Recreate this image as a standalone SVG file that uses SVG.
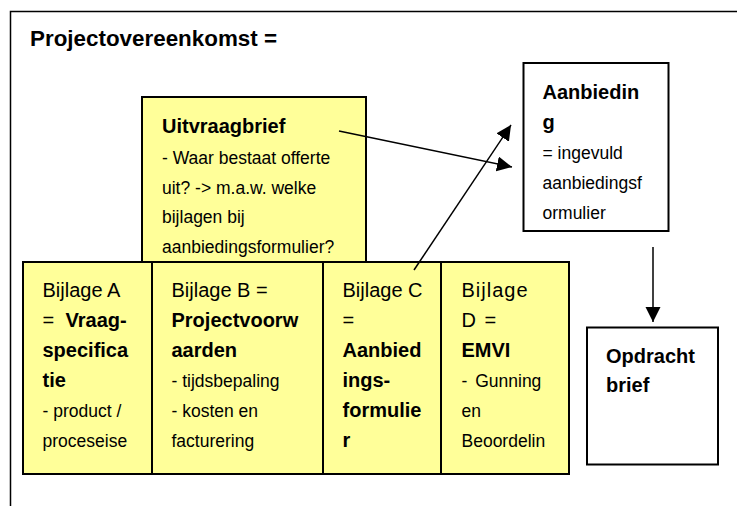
<svg xmlns="http://www.w3.org/2000/svg" width="737" height="506" viewBox="0 0 737 506">
<style>
text{font-family:"Liberation Sans",Arial,sans-serif;fill:#000}
.t{font-size:22.4px;font-weight:bold}
.b{font-size:20px;font-weight:bold}
.r{font-size:20px}
.s{font-size:17.5px}
.y{fill:#FFFF99;stroke:#000;stroke-width:2}
.w{fill:#fff;stroke:#000;stroke-width:2}
.c{stroke:#000;stroke-width:1.5;fill:none}
</style>
<defs>
<marker id="ah" markerUnits="userSpaceOnUse" markerWidth="16" markerHeight="16" refX="15" refY="7.5" orient="auto">
<path d="M0,0 L15,7.5 L0,15 Z" fill="#000"/>
</marker>
</defs>
<rect width="737" height="506" fill="#fff"/>
<path d="M10.5,506 V11.5 H737" fill="none" stroke="#000" stroke-width="1.5"/>
<text class="t" x="30" y="46">Projectovereenkomst =</text>
<g id="uitvraagbrief">
<rect class="y" x="142" y="97" width="224" height="180" stroke="#333"/>
<text class="b" x="162" y="133">Uitvraagbrief</text>
<text class="s" x="162" y="164">- Waar bestaat offerte</text>
<text class="s" x="162" y="194">uit? -&gt; m.a.w. welke</text>
<text class="s" x="162" y="223">bijlagen bij</text>
<text class="s" x="162" y="253">aanbiedingsformulier?</text>
</g>
<g id="bijlageA">
<rect class="y" x="23" y="262" width="129" height="212"/>
<text class="r" x="42.5" y="297">Bijlage A</text>
<text x="42.5" y="327"><tspan class="r">=</tspan><tspan class="b" x="65.5">Vraag-</tspan></text>
<text class="b" x="42.5" y="357">specifica</text>
<text class="b" x="42.5" y="387">tie</text>
<text class="s" x="42.5" y="417">- product /</text>
<text class="s" x="42.5" y="447">proceseise</text>
</g>
<g id="bijlageB">
<rect class="y" x="152" y="262" width="171" height="212"/>
<text class="r" x="171.5" y="297">Bijlage B =</text>
<text class="b" x="171.5" y="327">Projectvoorw</text>
<text class="b" x="171.5" y="357">aarden</text>
<text class="s" x="171.5" y="387">- tijdsbepaling</text>
<text class="s" x="171.5" y="417">- kosten en</text>
<text class="s" x="171.5" y="447">facturering</text>
</g>
<g id="bijlageC">
<rect class="y" x="323" y="262" width="118" height="212"/>
<text class="r" x="342.5" y="297">Bijlage C</text>
<text class="r" x="342.5" y="327">=</text>
<text class="b" x="342.5" y="357">Aanbied</text>
<text class="b" x="342.5" y="387">ings-</text>
<text class="b" x="342.5" y="417">formulie</text>
<text class="b" x="342.5" y="447">r</text>
</g>
<g id="bijlageD">
<rect class="y" x="441" y="262" width="128" height="212"/>
<text class="r" x="461.5" y="297" letter-spacing="1">Bijlage</text>
<text class="r" x="461.5" y="327" letter-spacing="1.5">D =</text>
<text class="b" x="461.5" y="357">EMVI</text>
<text class="s" x="461.5" y="387" word-spacing="3">- Gunning</text>
<text class="s" x="461.5" y="417">en</text>
<text class="s" x="461.5" y="447">Beoordelin</text>
</g>
<g id="aanbieding">
<rect class="w" x="523.5" y="63" width="145" height="168" stroke-width="1.5"/>
<text class="b" x="542.5" y="99">Aanbiedin</text>
<text class="b" x="542.5" y="129">g</text>
<text class="s" x="542.5" y="159">= ingevuld</text>
<text class="s" x="542.5" y="189">aanbiedingsf</text>
<text class="s" x="542.5" y="219">ormulier</text>
</g>
<g id="opdrachtbrief">
<rect class="w" x="587" y="327.5" width="131" height="137"/>
<text class="b" x="606" y="363">Opdracht</text>
<text class="b" x="606" y="392">brief</text>
</g>
<g id="connectors">
<line class="c" x1="339" y1="131" x2="512" y2="167" marker-end="url(#ah)"/>
<line class="c" x1="414" y1="270" x2="511" y2="125" marker-end="url(#ah)"/>
<line class="c" x1="653" y1="247" x2="653" y2="322" marker-end="url(#ah)"/>
</g>
</svg>
